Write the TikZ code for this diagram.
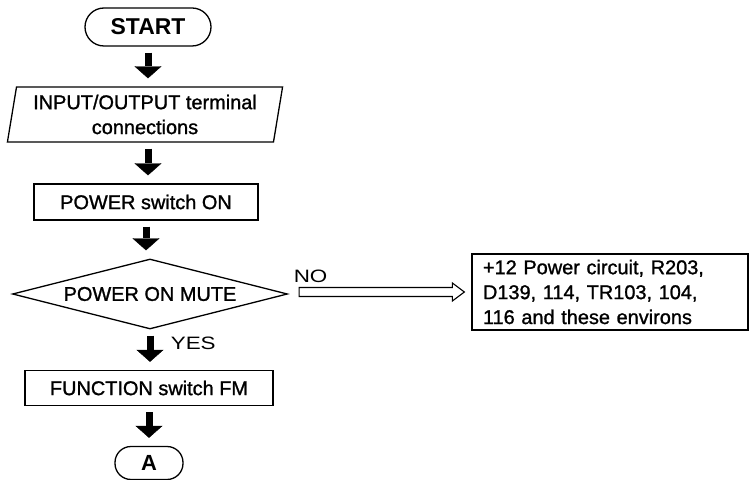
\documentclass[tikz,border=0pt]{standalone}
\usepackage{fontspec}
\setmainfont{Liberation Sans}
\newfontfamily\medfont[FakeBold=1.2]{Liberation Sans}
\newfontfamily\plotfont[FakeStretch=1.25]{Liberation Sans}
\usetikzlibrary{arrows.meta,shapes.geometric,calc}

\tikzset{
  terminal/.style={draw, rounded corners=16bp, minimum height=33bp,
    font=\fontsize{22}{26}\selectfont\bfseries},
  io/.style={draw, trapezium, trapezium left angle=80, trapezium right angle=100,
    trapezium stretches=true, minimum width=276bp, minimum height=55bp,
    align=center, font=\medfont\fontsize{20}{25}\selectfont},
  process/.style={draw, rectangle, font=\medfont\fontsize{20}{24}\selectfont},
  decision/.style={draw, diamond, aspect=4, inner sep=0pt, minimum width=275bp,
    minimum height=70bp, font=\medfont\fontsize{20}{24}\selectfont},
  cause/.style={draw, rectangle, align=left, text width=254bp, inner xsep=11bp,
    minimum height=76bp, font=\medfont\fontsize{20}{25}\selectfont},
  plotlabel/.style={font=\plotfont\fontsize{18}{20}\selectfont},
  flow/.style={line width=7bp, -{Triangle[length=12bp,width=27bp,line width=0.4bp]},
    shorten <=6bp, shorten >=8bp},
  hollow/.style={line width=1.1bp, line join=miter}
}

\begin{document}
\begin{tikzpicture}[x=1bp, y=-1bp, line width=1.3bp]
    \useasboundingbox (0,0) rectangle (749,480);
    % Steps of the check
    \node[terminal, minimum width=126bp, minimum height=38bp, rounded corners=19bp,
        font=\fontsize{23}{27}\selectfont\bfseries] (start) at (148,27) {START};
    \node[io] (io) at (145,114.5) {INPUT/OUTPUT terminal\\connections};
    \node[process, minimum width=224bp, minimum height=36bp] (power) at (146,202) {POWER switch ON};
    \node[decision] (mute) at (150,294) {POWER ON MUTE};
    \node[process, minimum width=248bp, minimum height=35bp] (func) at (149,388) {FUNCTION switch FM};
    \node[terminal, minimum width=68bp] (a) at (149,463) {A};
    
    % Fault to look for
    \node[cause] (cause) at (610,292) {+12 Power circuit, R203,\\D139, 114, TR103, 104,\\116 and these environs};
    
    % Flow arrows
    \draw[flow] (start.south) -- (start.south |- io.north);
    \draw[flow] (start.south |- io.south) -- (start.south |- power.north);
    \draw[flow] (power.south) -- (power.south |- mute.north);
    \draw[flow] (mute.south) -- (mute.south |- func.north)
        node[plotlabel, pos=0.33, anchor=west, xshift=14bp] (yes) {YES};
    \draw[flow] (func.south) -- (func.south |- a.north);
    
    % NO branch (hollow arrow)
    \coordinate (nostart) at ($(mute.east)+(11bp,0)$);
    \coordinate (noend) at ($(cause.west)+(-7bp,0)$);
    \draw[hollow] let \p1=(nostart |- noend), \p2=(noend) in
        (\x1,\y2-4.5bp) -- (\x2-12bp,\y2-4.5bp) -- (\x2-12bp,\y2-9bp) -- (\x2,\y2)
        -- (\x2-12bp,\y2+9bp) -- (\x2-12bp,\y2+4.5bp) -- (\x1,\y2+4.5bp) -- cycle;
    \node[plotlabel, anchor=south west, inner sep=0pt] (no) at ($(nostart |- noend)+(-6bp,9bp)$) {NO};
\end{tikzpicture}
\end{document}
